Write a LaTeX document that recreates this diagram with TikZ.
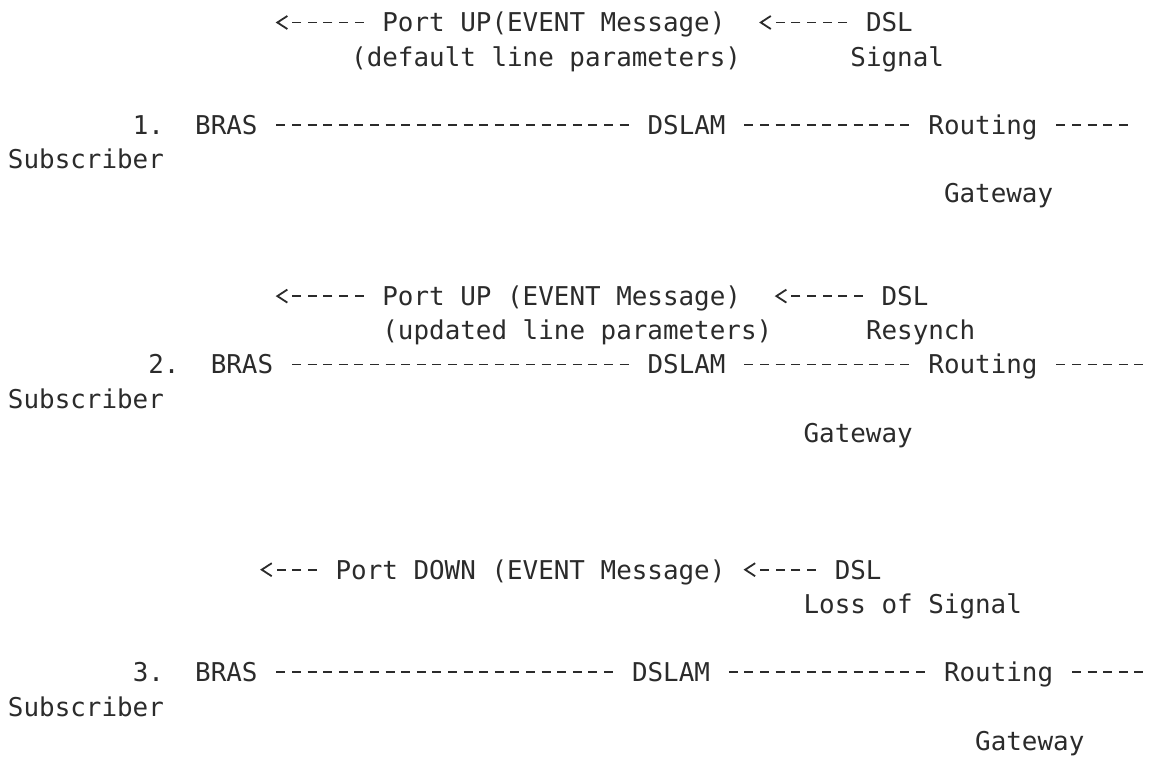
\documentclass[tikz,border=0pt]{standalone}
\usepackage{fontspec}
\usepackage{xcolor}
\usepackage{tikz}
\usetikzlibrary{arrows.meta}
\newfontfamily\asciimono{DejaVu Sans Mono}
\newcommand{\asciifont}{\asciimono\fontsize{25.9pt}{31pt}\selectfont}
\definecolor{ink}{HTML}{2B2B2B}

\begin{document}
\begin{tikzpicture}[
    x=15.6pt, y=-34.2pt,
    lbl/.style={
        font=\asciifont,
        text=ink,
        inner sep=0pt,
        outer sep=0pt,
        anchor=base west,
        text height=24.5pt,
        text depth=5.5pt
    },
    link/.style={
        draw=ink,
        line width=1.9pt,
        dash pattern=on 9pt off 6.6pt,
        shorten <=18.9pt,
        shorten >=18.9pt
    },
    msg/.style={
        draw=ink,
        line width=1.9pt,
        shorten <=18.9pt,
        -{Straight Barb[length=10pt, width=13pt, line width=1.8pt]}
    },
    hyph5/.style={dash pattern=on 9pt off 6.6pt on 9pt off 6.6pt on 9pt off 6.6pt on 9pt off 6.6pt on 9pt off 60pt},
    hyph4/.style={dash pattern=on 9pt off 6.6pt on 9pt off 6.6pt on 9pt off 6.6pt on 9pt off 60pt},
    hyph3/.style={dash pattern=on 9pt off 6.6pt on 9pt off 6.6pt on 9pt off 60pt}
]
\useasboundingbox (-8pt,32pt) rectangle (1152pt,-727pt);

% Case 1: port up with default line parameters
\node[lbl] (msgA) at (24,0) {Port UP(EVENT Message)};
\node[lbl] (dslA) at (55,0) {DSL};
\coordinate (tipA) at ([xshift=2.5pt, yshift=9.5pt]17,0);
\node[lbl] (prmA) at (22,1) {(default line parameters)};
\node[lbl] (sigA) at (54,1) {Signal};

\node[lbl] (numA) at (8,3) {1.};
\node[lbl] (brasA) at (12,3) {BRAS};
\node[lbl] (dslamA) at (41,3) {DSLAM};
\node[lbl] (routingA) at (59,3) {Routing};
\coordinate (wrapA) at ([xshift=-3.3pt, yshift=9.5pt]72,3);
\node[lbl] (subA) at (0,4) {Subscriber};
\node[lbl] (gwA) at (60,5) {Gateway};

\draw[msg, hyph5] (msgA) -- (tipA);
\draw[msg, hyph5, shorten >=33.7pt] (dslA) -- (msgA);
\draw[link] (brasA) -- (dslamA);
\draw[link] (dslamA) -- (routingA);
\draw[link, shorten >=0pt] (routingA) -- (wrapA);

% Case 2: resynch with updated line parameters
\node[lbl] (msgB) at (24,8) {Port UP (EVENT Message)};
\node[lbl] (dslB) at (56,8) {DSL};
\coordinate (tipB) at ([xshift=2.5pt, yshift=9.5pt]17,8);
\node[lbl] (prmB) at (24,9) {(updated line parameters)};
\node[lbl] (resB) at (55,9) {Resynch};

\node[lbl] (numB) at (9,10) {2.};
\node[lbl] (brasB) at (13,10) {BRAS};
\node[lbl] (dslamB) at (41,10) {DSLAM};
\node[lbl] (routingB) at (59,10) {Routing};
\coordinate (wrapB) at ([xshift=-3.3pt, yshift=9.5pt]73,10);
\node[lbl] (subB) at (0,11) {Subscriber};
\node[lbl] (gwB) at (51,12) {Gateway};

\draw[msg, hyph5] (msgB) -- (tipB);
\draw[msg, hyph5, shorten >=33.7pt] (dslB) -- (msgB);
\draw[link] (brasB) -- (dslamB);
\draw[link] (dslamB) -- (routingB);
\draw[link, shorten >=0pt] (routingB) -- (wrapB);

% Case 3: port down on loss of signal
\node[lbl] (msgC) at (21,16) {Port DOWN (EVENT Message)};
\node[lbl] (dslC) at (53,16) {DSL};
\coordinate (tipC) at ([xshift=2.5pt, yshift=9.5pt]16,16);
\node[lbl] (lossC) at (51,17) {Loss of Signal};

\node[lbl] (numC) at (8,19) {3.};
\node[lbl] (brasC) at (12,19) {BRAS};
\node[lbl] (dslamC) at (40,19) {DSLAM};
\node[lbl] (routingC) at (60,19) {Routing};
\coordinate (wrapC) at ([xshift=-3.3pt, yshift=9.5pt]73,19);
\node[lbl] (subC) at (0,20) {Subscriber};
\node[lbl] (gwC) at (62,21) {Gateway};

\draw[msg, hyph3] (msgC) -- (tipC);
\draw[msg, hyph4, shorten >=18.1pt] (dslC) -- (msgC);
\draw[link] (brasC) -- (dslamC);
\draw[link] (dslamC) -- (routingC);
\draw[link, shorten >=0pt] (routingC) -- (wrapC);

\end{tikzpicture}
\end{document}
